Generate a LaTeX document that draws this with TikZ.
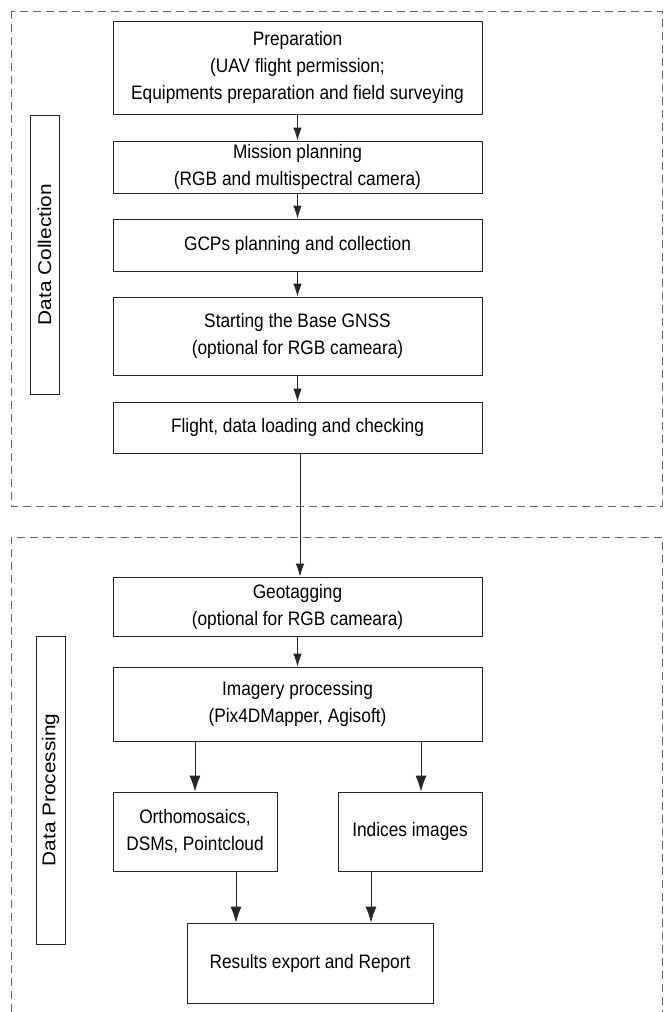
\documentclass[tikz,border=0pt]{standalone}
\usepackage{fontspec}
\setmainfont{Liberation Sans}
\usetikzlibrary{arrows.meta}
\newcommand{\sqz}[1]{\scalebox{0.887}[1]{#1}}
\newcommand{\sqv}[1]{\scalebox{1}[0.887]{#1}}
\begin{document}
\begin{tikzpicture}[x=1pt,y=-1pt,
  every node/.style={font=\fontsize{19.5}{27}\selectfont},
  box/.style={draw=black!85, line width=0.8pt, align=center, inner sep=0pt, minimum width=#1},
  box/.default=369pt,
  lbl/.style={draw=black!85, line width=0.8pt, rotate=90, inner sep=0pt, minimum height=29pt, font=\fontsize{20.8}{25}\selectfont},
  grp/.style={draw=black!60, line width=1pt, dash pattern=on 8pt off 5pt},
  arr/.style={draw=black!85, line width=0.8pt, -{Latex[length=13pt,width=8.5pt]}},
  arrb/.style={draw=black!85, line width=0.8pt, -{Latex[length=16pt,width=11pt]}}]
\useasboundingbox (0,0) rectangle (664,1012);
% groups
\draw[grp] (11,11) rectangle (662,506);
\draw[grp] (11,1012) -- (11,537) -- (662,537) -- (662,1012);
% labels
\node[lbl, minimum width=279pt] (dc) at (44.5,254.5) {\sqv{Data Collection}};
\node[lbl, minimum width=308pt] (dp) at (50.5,790) {\sqv{Data Processing}};
% boxes
\node[box, minimum height=93pt] (prep) at (297.5,67.5) {\sqz{Preparation}\\\sqz{(UAV flight permission;}\\\sqz{Equipments preparation and field surveying}};
\node[box, minimum height=52pt] (mis) at (297.5,167) {\sqz{Mission planning}\\\sqz{(RGB and multispectral camera)}};
\node[box, minimum height=52pt] (gcp) at (297.5,245) {\sqz{GCPs planning and collection}};
\node[box, minimum height=78pt] (base) at (297.5,336) {\sqz{Starting the Base GNSS}\\\sqz{(optional for RGB cameara)}};
\node[box, minimum height=51pt] (fl) at (297.5,427.5) {\sqz{Flight, data loading and checking}};
\node[box, minimum height=59pt] (geo) at (297.5,606.5) {\sqz{Geotagging}\\\sqz{(optional for RGB cameara)}};
\node[box, minimum height=74pt] (img) at (297.5,704) {\sqz{Imagery processing}\\\sqz{(Pix4DMapper, Agisoft)}};
\node[box=164pt, minimum height=79pt] (orth) at (195,831.5) {\sqz{Orthomosaics,}\\\sqz{DSMs, Pointcloud}};
\node[box=144pt, minimum height=79pt] (ind) at (410,831.5) {\sqz{Indices images}};
\node[box=246pt, minimum height=80pt] (res) at (310,963) {\sqz{Results export and Report}};
% arrows
\draw[arr] (prep) -- (mis);
\draw[arr] (mis) -- (gcp);
\draw[arr] (gcp) -- (base);
\draw[arr] (base) -- (fl);
\draw[arr] (fl.south -| 300,0) -- (geo.north -| 300,0);
\draw[arr] (geo) -- (img);
\draw[arrb] (img.south -| orth.north) -- (orth.north);
\draw[arrb] (img.south -| 421,0) -- (ind.north -| 421,0);
\draw[arrb] (orth.south -| 236,0) -- (res.north -| 236,0);
\draw[arrb] (ind.south -| 371,0) -- (res.north -| 371,0);
\end{tikzpicture}
\end{document}
